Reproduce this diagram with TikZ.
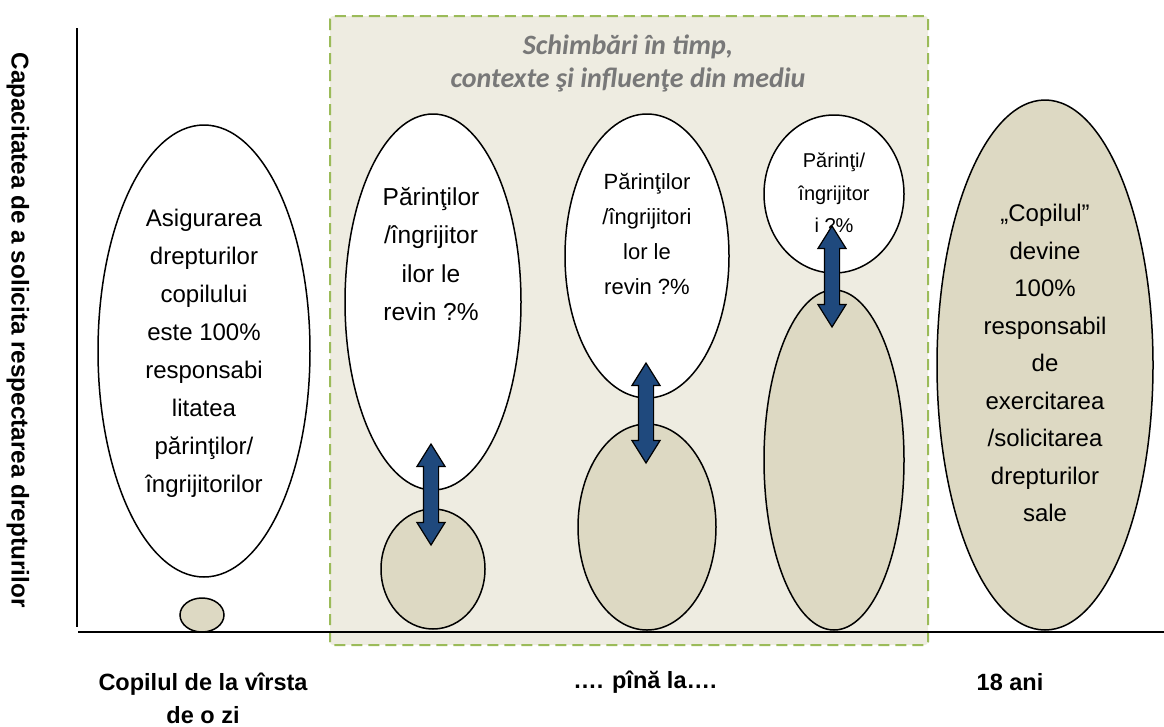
\documentclass[tikz,border=0pt]{standalone}
\usepackage{fontspec}
\setmainfont{Liberation Sans}
\newfontfamily\calibri{Carlito}
\usetikzlibrary{shapes.geometric,shapes.arrows}
\definecolor{boxfill}{RGB}{238,236,225}
\definecolor{boxline}{RGB}{155,187,89}
\definecolor{tanfill}{RGB}{221,217,195}
\definecolor{arrowblue}{RGB}{31,73,125}
\definecolor{titlegray}{RGB}{120,120,120}

\begin{document}
\begin{tikzpicture}[x=1pt,y=-1pt,
  white node/.style={ellipse,draw,fill=white,line width=1.5pt,inner sep=0pt},
  tan node/.style={ellipse,draw,fill=tanfill,line width=1.5pt,inner sep=0pt},
  dbl arrow/.style={double arrow,draw,fill=arrowblue,line width=1.2pt,inner sep=7pt,
    shape border rotate=90,double arrow head extend=6.5pt,double arrow tip angle=64},
  txt/.style={align=center,inner sep=0pt},
  axis label/.style={align=center,inner sep=0pt,font=\bfseries\fontsize{23.5}{33}\selectfont}]

  \useasboundingbox (0,0) rectangle (1164,726);

  \draw[fill=boxfill,draw=boxline,line width=2pt,dash pattern=on 11pt off 6pt,
    rounded corners=3pt] (330,16) rectangle (928,645);
  \node[txt,text=titlegray,font=\calibri\bfseries\itshape\fontsize{28}{33}\selectfont]
    (title) at (628,63) {Schimbări în timp,\\contexte şi influenţe din mediu};

  \draw[line width=1.5pt] (77,28) -- (77,627);
  \draw[line width=1.5pt] (78,632) -- (1164,632);

  \node[white node,minimum width=212pt,minimum height=452pt] (child1) at (204,351) {};
  \node[tan node,minimum width=44pt,minimum height=34pt] (tan1) at (202,615) {};
  \node[white node,minimum width=176pt,minimum height=376pt] (par2) at (433,302) {};
  \node[tan node,minimum width=104pt,minimum height=120pt] (tan2) at (433,569) {};
  \node[white node,minimum width=164pt,minimum height=284pt] (par3) at (647,256) {};
  \node[tan node,minimum width=138pt,minimum height=206pt] (tan3) at (647,527) {};
  \node[white node,minimum width=140pt,minimum height=158pt] (par4) at (834,194) {};
  \node[tan node,minimum width=140pt,minimum height=340pt] (tan4) at (834,460) {};
  \node[tan node,minimum width=216pt,minimum height=530pt] (tan5) at (1045,365) {};

  \node[txt,font=\fontsize{24}{38}\selectfont] (child1txt) at (204,353)
    {Asigurarea\\drepturilor\\copilului\\este 100\%\\responsabi\\litatea\\părinţilor/\\îngrijitorilor};
  \node[txt,font=\fontsize{24.5}{38.3}\selectfont] (par2txt) at (431,254)
    {Părinţilor\\/îngrijitor\\ilor le\\revin ?\%};
  \node[txt,font=\fontsize{22}{35}\selectfont] (par3txt) at (647,234)
    {Părinţilor\\/îngrijitori\\lor le\\revin ?\%};
  \node[txt,font=\fontsize{20}{32.5}\selectfont] (par4txt) at (834,193)
    {Părinţi/\\îngrijitor\\i ?\%};
  \node[txt,font=\fontsize{24}{37.5}\selectfont] (tan5txt) at (1045,363)
    {„Copilul”\\devine\\100\%\\responsabil\\de\\exercitarea\\/solicitarea\\drepturilor\\sale};

  \node[dbl arrow,minimum height=101pt] (arr2) at (431,494.5) {};
  \node[dbl arrow,minimum height=100pt] (arr3) at (646,413) {};
  \node[dbl arrow,minimum height=101pt] (arr4) at (832,276.5) {};

  \node[axis label,rotate=-90,font=\bfseries\fontsize{24.3}{33}\selectfont] (ylab) at (18,330)
    {Capacitatea de a solicita respectarea drepturilor};
  \node[axis label] (start) at (203,698) {Copilul de la vîrsta\\de o zi};
  \node[axis label] (middle) at (645,682) {…. pînă la….};
  \node[axis label] (end) at (1010,682) {18 ani};

\end{tikzpicture}
\end{document}
